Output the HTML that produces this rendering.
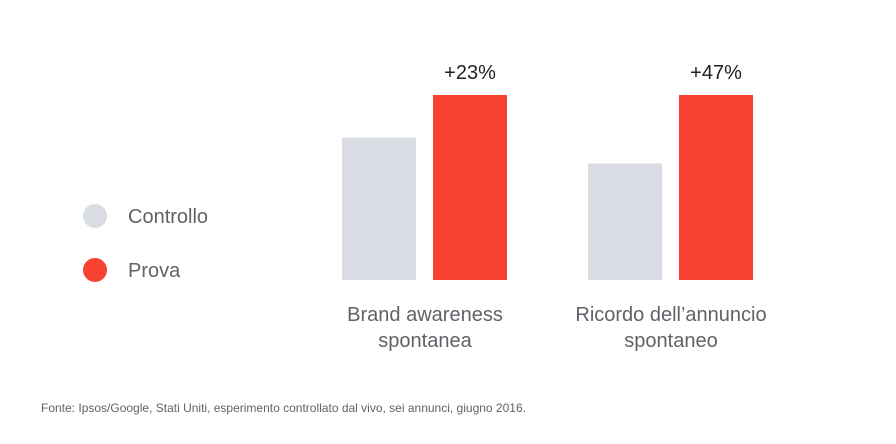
<!DOCTYPE html>
<html><head><meta charset="utf-8"><style>
html,body{margin:0;padding:0;background:#fff;}
body{width:896px;height:444px;overflow:hidden;position:relative;font-family:"Liberation Sans",sans-serif;}
svg{position:absolute;left:0;top:0;}
</style></head><body>
<svg id="chart" width="896" height="444" viewBox="0 0 896 444" xmlns="http://www.w3.org/2000/svg">
<g>
<circle cx="95" cy="216" r="12" fill="#d9dde3"/>
<text x="128" y="223" font-size="20" fill="#5f6368">Controllo</text>
<circle cx="95" cy="270" r="12" fill="#f84333"/>
<text x="128" y="277" font-size="20" fill="#5f6368">Prova</text>
</g>
<g id="bars"></g>
<text x="41" y="412" font-size="12" fill="#5f6368">Fonte: Ipsos/Google, Stati Uniti, esperimento controllato dal vivo, sei annunci, giugno 2016.</text>
</svg>
<script>
const categories = [["Brand awareness","spontanea"],["Ricordo dell’annuncio","spontaneo"]];
const controlValues = [77, 63];
const testValues = [100, 100];
const liftLabels = ["+23%", "+47%"];

const NS = "http://www.w3.org/2000/svg";
const g = document.getElementById("bars");
const baseY = 280, plotH = 185, barW = 74;
const groupX = [342, 588];
function y(v){ return baseY - v / 100 * plotH; }
function mk(tag, attrs){ const e = document.createElementNS(NS, tag); for (const k in attrs) e.setAttribute(k, attrs[k]); g.appendChild(e); return e; }
categories.forEach((cat, i) => {
  const x0 = groupX[i];
  const c = mk("rect", {x:x0, y:y(controlValues[i]), width:barW, height:baseY - y(controlValues[i]), fill:"#d9dde3"});
  
  
  const p = mk("rect", {x:x0 + 91, y:y(testValues[i]), width:barW, height:baseY - y(testValues[i]), fill:"#f84333"});
  
  
  const t = mk("text", {x:x0 + 91 + barW/2, y:y(testValues[i]) - 16, "font-size":20, fill:"#202124", "text-anchor":"middle"});
  t.textContent = liftLabels[i];
  
  
  cat.forEach((line, j) => {
    const l = mk("text", {x:x0 + 83, y:321 + j*26, "font-size":20, fill:"#5f6368", "text-anchor":"middle"});
    l.textContent = line;
    
    
  });
});
</script>
</body></html>
